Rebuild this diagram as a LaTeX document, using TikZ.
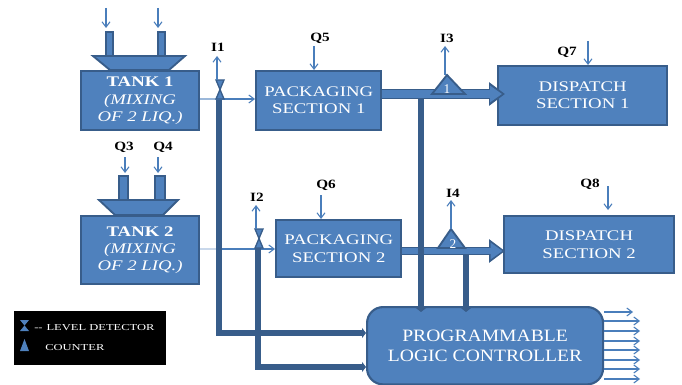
\documentclass[tikz,border=0pt]{standalone}
\usepackage{fontspec}
\setmainfont{Liberation Serif}
\newfontfamily\boxfont[FakeStretch=1.28]{Liberation Serif}
\newfontfamily\plcfont[FakeStretch=1.13]{Liberation Serif}
\newfontfamily\labelfont[FakeStretch=1.2]{Liberation Serif}
\newfontfamily\legendfont[FakeStretch=1.38]{Liberation Serif}
\usetikzlibrary{arrows.meta,calc}
\definecolor{bfill}{HTML}{4F81BD}
\definecolor{bline}{HTML}{385D8A}
\definecolor{aline}{HTML}{4A7EBB}
\tikzset{
  px/.style={x=0.75pt,y=-0.75pt},
  box/.style={draw=bline,line width=1.6pt,fill=bfill,text=white,align=center,anchor=north west,inner sep=0pt,font=\boxfont\fontsize{11}{12.8}\selectfont},
  plcbox/.style={box,rounded corners=12pt,font=\plcfont\fontsize{13}{15}\selectfont},
  qlabel/.style={font=\labelfont\fontsize{9.5}{10}\selectfont\bfseries,text=black,inner sep=0pt},
  thin arrow/.style={draw=aline,line width=0.8pt,-{Straight Barb[length=4pt,width=6pt]}},
  bus/.style={draw=bline,line width=3.8pt,-{Triangle[length=3pt,width=7.5pt]}},
  shape fill/.style={draw=bline,line width=1.4pt,fill=bfill},
  big outer/.style={draw=bline,-{Triangle[length=12pt,width=17pt]}},
  big inner/.style={draw=bfill,-{Triangle[length=9pt,width=12pt]}},
  legendtext/.style={text=white,inner sep=0pt,anchor=west,font=\legendfont\fontsize{6.8}{8}\selectfont}
}
\begin{document}
\begin{tikzpicture}[px]
\useasboundingbox (0,0) rectangle (682,385);
% feed pipes and funnels, tank 1
\draw[shape fill] (106,32) rectangle (113,56);
\draw[shape fill] (158,32) rectangle (165,56);
\draw[shape fill] (93,56) -- (185,56) -- (169,70) -- (110,70) -- cycle;
% feed pipes and funnels, tank 2
\draw[shape fill] (119,176) rectangle (128,200);
\draw[shape fill] (155,176) rectangle (165,200);
\draw[shape fill] (99,200) -- (178,200) -- (163,215) -- (115,215) -- cycle;
% boxes
\node[box,minimum width=88.5pt,minimum height=44.5pt] (tank1) at (80,70) {\textbf{TANK 1}\\\textit{(MIXING}\\\textit{OF 2 LIQ.)}};
\node[box,minimum width=88.5pt,minimum height=51pt] (tank2) at (80,215) {\textbf{TANK 2}\\\textit{(MIXING}\\\textit{OF 2 LIQ.)}};
\node[box,minimum width=94pt,minimum height=44pt] (pack1) at (255,70) {PACKAGING\\SECTION 1};
\node[box,minimum width=94pt,minimum height=43pt] (pack2) at (275,219) {PACKAGING\\SECTION 2};
\node[box,minimum width=127pt,minimum height=44pt] (disp1) at (497,65) {DISPATCH\\SECTION 1};
\node[box,minimum width=127.5pt,minimum height=43pt] (disp2) at (503,215) {DISPATCH\\SECTION 2};
\node[plcbox,minimum width=177pt,minimum height=58pt] (plc) at (366,306) {PROGRAMMABLE\\LOGIC CONTROLLER};
% labels
\node[qlabel] (i1) at (218,47) {I1};
\node[qlabel] (i2) at (257,197) {I2};
\node[qlabel] (i3) at (447,38) {I3};
\node[qlabel] (i4) at (453,193) {I4};
\node[qlabel] (q3) at (124,147) {Q3};
\node[qlabel] (q4) at (163,147) {Q4};
\node[qlabel] (q5) at (320,38) {Q5};
\node[qlabel] (q6) at (326,185) {Q6};
\node[qlabel] (q7) at (567,52) {Q7};
\node[qlabel] (q8) at (590,184) {Q8};
% free ends
\coordinate (f1) at (106,8); \coordinate (f1e) at (106,28);
\coordinate (f2) at (158,8); \coordinate (f2e) at (158,28);
\coordinate (f3e) at (125,173); \coordinate (f4e) at (158,173);
\coordinate (q5s) at (314,46);
\coordinate (q6s) at (321,195);
\coordinate (q7s) at (588,41);
\coordinate (q8s) at (608,186);
\coordinate (c1) at (447,75);
\coordinate (c2) at (451,229);
% inlet arrows
\draw[thin arrow] (f1) -- (f1e);
\draw[thin arrow] (f2) -- (f2e);
\draw[thin arrow] (125,157) -- (f3e);
\draw[thin arrow] (158,157) -- (f4e);
\draw[thin arrow] (q5s) -- (q5s |- pack1.north);
\draw[thin arrow] (q6s) -- (q6s |- pack2.north);
\draw[thin arrow] (q7s) -- (q7s |- disp1.north);
\draw[thin arrow] (q8s) -- (608,210);
% tank to packaging
\draw[thin arrow] (tank1.east |- 0,99) -- (pack1.west |- 0,99);
\draw[thin arrow] (tank2.east |- 0,249) -- (pack2.west |- 0,249);
\draw[draw=aline!55,line width=0.8pt] (tank1.east |- 0,99) -- (216,99);
\draw[draw=aline!30,line width=0.8pt] (tank2.east |- 0,249) -- (217,249);
% big arrows
\draw[big outer,line width=8pt] (pack1.east |- 0,94) -- (505,94);
\draw[big inner,line width=5.5pt] (382,94) -- (502,94);
\draw[big outer,line width=6pt] (pack2.east |- 0,251) -- (505,251);
\draw[big inner,line width=4pt] (402,251) -- (502.5,251);
% PLC buses
\draw[bus] (219,100) |- (plc.west |- 0,333);
\draw[bus] (258,248) |- (plc.west |- 0,367);
\draw[bus] (421,99) -- (421,312);
\draw[bus] (466,255) -- (466,312);
% level detectors
\draw[fill=bfill,draw=bline,line width=1pt] (216,80) -- (224,80) -- (216,99) -- (224,99) -- cycle;
\draw[fill=bfill,draw=bline,line width=1pt] (255,229) -- (263,229) -- (255,248) -- (263,248) -- cycle;
\draw[thin arrow] (217,80) -- (217,56);
\draw[thin arrow] (256,229) -- (256,205);
% counters
\draw[shape fill] (432,94) -- (c1) -- (465,94) -- cycle;
\draw[shape fill] (438,248) -- (c2) -- (465,248) -- cycle;
\node[text=white,inner sep=0pt,font=\fontsize{10}{10}\selectfont] (n1) at (447,89) {1};
\node[text=white,inner sep=0pt,font=\fontsize{10}{10}\selectfont] (n2) at (453,244) {2};
\draw[thin arrow] (445,75) -- (445,46);
\draw[thin arrow] (c2) -- (451,200);
% PLC outputs
\foreach \y/\e in {312/633,321/640,331/640,341/640,350/640,360/640,369/640,379/640}
  \draw[thin arrow] (plc.east |- 0,\y) -- (\e,\y);
% legend
\node[fill=black,minimum width=114pt,minimum height=40.5pt,anchor=north west,inner sep=0pt] (legend) at (14,311) {};
\fill[bfill] (20,320) -- (29,320) -- (20,331) -- (29,331) -- cycle;
\fill[bfill] (20,351) -- (24.5,339) -- (29,351) -- cycle;
\node[legendtext] (l1) at (34,328) {--\hspace{3pt}LEVEL DETECTOR};
\node[legendtext] (l2) at (45,348) {COUNTER};
\end{tikzpicture}
\end{document}
